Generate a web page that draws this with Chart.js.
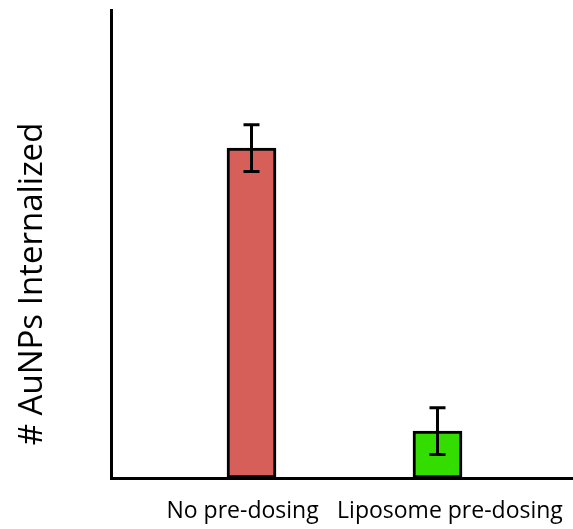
<!DOCTYPE html>
<html>
<head>
  <meta charset="utf-8">
  <script src="https://cdn.jsdelivr.net/npm/chart.js"></script>
  <style>
    html, body { margin: 0; padding: 0; background: #fff; }
    #wrap { width: 573px; height: 529px; }
  </style>
</head>
<body>
  <div id="wrap"><canvas id="barChart"></canvas></div>
  <script>
    // data (arbitrary units, axis 0-100)
    const categories = ['No pre-dosing', 'Liposome pre-dosing'];
    const groupPos = [1, 2];
    const internalized = [70.5, 10];
    const errors = [5, 5];
    const barColors = ['#D65F5A', '#33DD00'];
    const yTitle = '# AuNPs Internalized';

    // error bars + rotated y title
    const errorBarPlugin = {
      id: 'errorBars',
      afterDatasetsDraw(chart) {
        const ctx = chart.ctx;
        const x = chart.scales.x;
        const y = chart.scales.y;
        ctx.save();
        ctx.strokeStyle = '#000';
        ctx.lineWidth = 3;
        groupPos.forEach(function (p, i) {
          const px = x.getPixelForValue(p);
          const top = y.getPixelForValue(internalized[i] + errors[i]);
          const bot = y.getPixelForValue(internalized[i] - errors[i]);
          ctx.beginPath();
          ctx.moveTo(px, top); ctx.lineTo(px, bot);
          ctx.moveTo(px - 8, top); ctx.lineTo(px + 8, top);
          ctx.moveTo(px - 8, bot); ctx.lineTo(px + 8, bot);
          ctx.stroke();
        });
        ctx.restore();
      },
      afterDraw(chart) {
        const ctx = chart.ctx;
        ctx.save();
        ctx.translate(42, 284);
        ctx.rotate(-Math.PI / 2);
        ctx.font = '33px "Open Sans"';
        ctx.fillStyle = '#000';
        ctx.textAlign = 'center';
        ctx.textBaseline = 'alphabetic';
        ctx.fillText(yTitle, 0, 0);
        ctx.restore();
      }
    };

    new Chart(document.getElementById('barChart'), {
      type: 'bar',
      data: {
        datasets: [{
          data: groupPos.map((p, i) => ({ x: p, y: internalized[i] })),
          backgroundColor: barColors,
          borderColor: '#000',
          borderWidth: 3,
          borderSkipped: false,
          barThickness: 49
        }]
      },
      options: {
        responsive: true,
        maintainAspectRatio: false,
        animation: false,
        layout: { padding: { top: 10, right: 0, left: 0, bottom: 0 } },
        plugins: {
          legend: { display: false },
          tooltip: { enabled: false },
          title: { display: false }
        },
        scales: {
          x: {
            type: 'linear',
            offset: false,
            min: 0.2446,
            max: 2.7285,
            grid: { display: false, drawTicks: false, offset: false },
            border: { display: true, color: '#000', width: 3 },
            afterBuildTicks(scale) {
              // labels sit slightly off the bar centres in the original
              scale.ticks = [{ value: 0.952 }, { value: 2.067 }];
            },
            ticks: {
              autoSkip: false,
              maxRotation: 0,
              padding: 20,
              color: '#000',
              font: { family: 'Open Sans', size: 23 },
              callback: (v, i) => categories[i]
            },
            afterFit(scale) {
              scale.height = 51;
              // don't let the long right label shrink the plot
              scale.paddingLeft = 0;
              scale.paddingRight = 0;
            }
          },
          y: {
            min: 0,
            max: 100,
            grid: { display: false, drawTicks: false },
            border: { display: true, color: '#000', width: 3 },
            ticks: { display: false },
            afterFit(scale) { scale.width = 111; }
          }
        }
      },
      plugins: [errorBarPlugin]
    });
  </script>
</body>
</html>
